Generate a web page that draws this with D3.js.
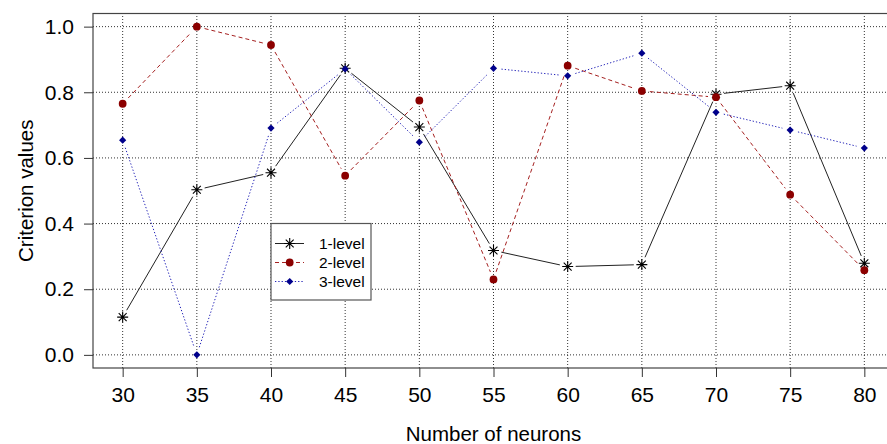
<!DOCTYPE html>
<html lang="en">
<head>
<meta charset="UTF-8">
<title>Criterion values by number of neurons</title>
<script src="https://cdn.jsdelivr.net/npm/d3@7"></script>
<style>
  body { margin: 0; background: #fff; }
  svg text { font-family: "Liberation Sans", Arial, sans-serif; fill: #000; }
</style>
</head>
<body>
<svg width="887" height="444"></svg>
<script>
// data
var neurons = [30, 35, 40, 45, 50, 55, 60, 65, 70, 75, 80];
var level1 = [0.115, 0.503, 0.555, 0.873, 0.694, 0.318, 0.269, 0.275, 0.794, 0.820, 0.279];
var level2 = [0.765, 1.000, 0.944, 0.546, 0.775, 0.230, 0.881, 0.804, 0.785, 0.488, 0.258];
var level3 = [0.654, 0.000, 0.691, 0.871, 0.648, 0.873, 0.850, 0.919, 0.739, 0.685, 0.630];
var seriesNames = ["1-level", "2-level", "3-level"];
var yTicks = [0, 0.2, 0.4, 0.6, 0.8, 1.0];

var svg = d3.select("svg");

// R-style 4% padding on the axis ranges
var x = d3.scaleLinear().domain([28, 82]).range([93, 894]);
var y = d3.scaleLinear().domain([-0.04, 1.04]).range([368, 13.5]);

var series = [
  {name: seriesNames[0], values: level1, color: "#000000", line: "#222", dash: null, shape: "star"},
  {name: seriesNames[1], values: level2, color: "#8B0000", line: "#a52020", dash: "4,3", shape: "circle"},
  {name: seriesNames[2], values: level3, color: "#00008B", line: "#2323b8", dash: "1.3,2", shape: "diamond"}
];

// grid
var grid = svg.append("g");
grid.selectAll(".gx").data(neurons).enter().append("line")
  .attr("x1", function(d) { return x(d); }).attr("x2", function(d) { return x(d); })
  .attr("y1", y.range()[0]).attr("y2", y.range()[1])
  .attr("stroke", "#333").attr("stroke-width", 1).attr("stroke-dasharray", "1,2");
grid.selectAll(".gy").data(yTicks).enter().append("line")
  .attr("x1", x.range()[0]).attr("x2", x.range()[1])
  .attr("y1", function(d) { return y(d); }).attr("y2", function(d) { return y(d); })
  .attr("stroke", "#333").attr("stroke-width", 1).attr("stroke-dasharray", "1,2");

// lines with small gaps around the points (type = "b")
var gap = 8;
series.forEach(function(s) {
  var pts = neurons.map(function(n, i) { return [x(n), y(s.values[i])]; });
  var segs = [];
  for (var i = 0; i < pts.length - 1; i++) {
    var a = pts[i], b = pts[i + 1];
    var dx = b[0] - a[0], dy = b[1] - a[1], len = Math.sqrt(dx * dx + dy * dy);
    if (len <= 2 * gap) continue;
    var ux = dx / len, uy = dy / len;
    segs.push([a[0] + ux * gap, a[1] + uy * gap, b[0] - ux * gap, b[1] - uy * gap]);
  }
  svg.append("g").selectAll("line").data(segs).enter().append("line")
    .attr("x1", function(d) { return d[0]; }).attr("y1", function(d) { return d[1]; })
    .attr("x2", function(d) { return d[2]; }).attr("y2", function(d) { return d[3]; })
    .attr("stroke", s.line).attr("stroke-width", 1)
    .attr("stroke-dasharray", s.dash);
});

function drawMarker(g, shape, color, cx, cy) {
  if (shape === "star") {
    var r = 5.5, k = r * 0.72;
    g.append("path")
      .attr("d", "M" + (cx - r) + "," + cy + "H" + (cx + r) +
                 "M" + cx + "," + (cy - r) + "V" + (cy + r) +
                 "M" + (cx - k) + "," + (cy - k) + "L" + (cx + k) + "," + (cy + k) +
                 "M" + (cx - k) + "," + (cy + k) + "L" + (cx + k) + "," + (cy - k))
      .attr("stroke", color).attr("stroke-width", 1.1).attr("fill", "none");
  } else if (shape === "circle") {
    g.append("circle").attr("cx", cx).attr("cy", cy).attr("r", 3.9).attr("fill", color);
  } else {
    var h = 3.6;
    g.append("path")
      .attr("d", "M" + cx + "," + (cy - h) + "L" + (cx + h) + "," + cy + "L" + cx + "," + (cy + h) + "L" + (cx - h) + "," + cy + "Z")
      .attr("fill", color);
  }
}

series.forEach(function(s) {
  var g = svg.append("g");
  neurons.forEach(function(n, i) { drawMarker(g, s.shape, s.color, x(n), y(s.values[i])); });
});

// box
svg.append("rect")
  .attr("x", x.range()[0]).attr("y", y.range()[1])
  .attr("width", x.range()[1] - x.range()[0]).attr("height", y.range()[0] - y.range()[1])
  .attr("fill", "none").attr("stroke", "#444").attr("stroke-width", 1.2);

// axes
var xAxis = svg.append("g").attr("transform", "translate(0," + y.range()[0] + ")")
  .call(d3.axisBottom(x).tickValues(neurons).tickSize(9).tickPadding(10).tickFormat(d3.format("d")));
var yAxis = svg.append("g").attr("transform", "translate(" + x.range()[0] + ",0)")
  .call(d3.axisLeft(y).tickValues(yTicks).tickSize(9).tickPadding(10).tickFormat(d3.format(".1f")));
[xAxis, yAxis].forEach(function(a) {
  a.select(".domain").remove();
  a.selectAll(".tick line").attr("stroke", "#333");
  a.selectAll("text").style("font-size", "21px").attr("fill", "#000");
});

// axis titles
svg.append("text").attr("x", (x.range()[0] + x.range()[1]) / 2).attr("y", 441)
  .attr("text-anchor", "middle").style("font-size", "20.5px").text("Number of neurons");
svg.append("text")
  .attr("transform", "translate(33," + (y(0) + y(1)) / 2 + ") rotate(-90)")
  .attr("text-anchor", "middle").style("font-size", "20.5px").text("Criterion values");

// legend
var lg = svg.append("g").attr("transform", "translate(271,223.5)");
lg.append("rect").attr("width", 100).attr("height", 76.5)
  .attr("fill", "#fff").attr("stroke", "#555").attr("stroke-width", 1.2);
series.forEach(function(s, i) {
  var ry = 20 + i * 19;
  lg.append("line").attr("x1", 4).attr("x2", 33).attr("y1", ry).attr("y2", ry)
    .attr("stroke", s.line).attr("stroke-width", 1).attr("stroke-dasharray", s.dash);
  drawMarker(lg, s.shape, s.color, 18.7, ry);
  lg.append("text").attr("x", 48).attr("y", ry).attr("dy", "0.35em")
    .style("font-size", "15.5px").text(s.name);
});
</script>
</body>
</html>
